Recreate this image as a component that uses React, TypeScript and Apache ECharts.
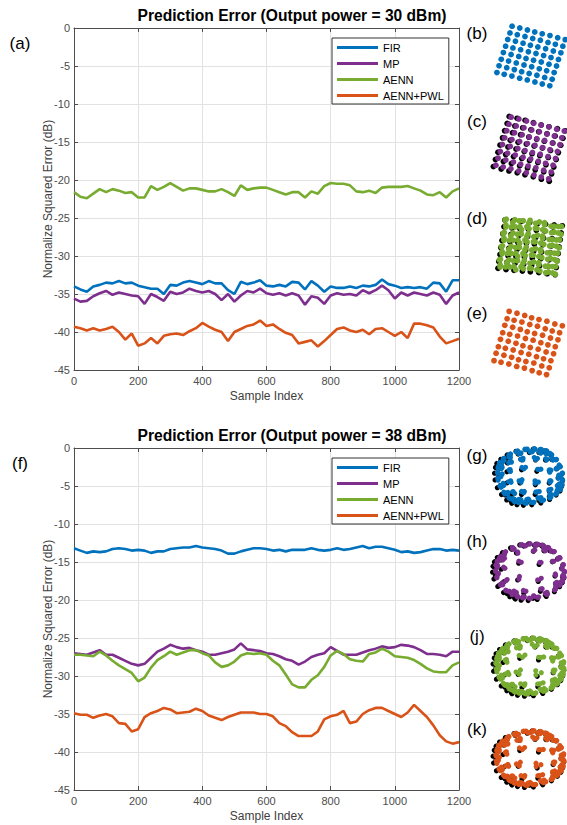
import React, { useEffect, useRef } from "react";
import * as echarts from "echarts";

const SAMPLE_INDEX = [
  0, 20, 40, 60, 80, 100, 120, 140, 160, 180, 200, 220, 240, 260, 280, 300, 320, 340, 360, 380,
  400, 420, 440, 460, 480, 500, 520, 540, 560, 580, 600, 620, 640, 660, 680, 700, 720, 740, 760, 780,
  800, 820, 840, 860, 880, 900, 920, 940, 960, 980, 1000, 1020, 1040, 1060, 1080, 1100, 1120, 1140, 1160, 1180, 1200,
];

const SERIES_NAMES = ["FIR", "MP", "AENN", "AENN+PWL"];
const COLORS = ["#0072BD", "#7E2F8E", "#77AC30", "#D95319"];
const TITLES = ["Prediction Error (Output power = 30 dBm)", "Prediction Error (Output power = 38 dBm)"];

// ---- Top panel (30 dBm) ----
const TOP_FIR = [
  -34.0, -34.4, -34.7, -34.0, -33.8, -33.5, -33.6, -33.3, -33.6, -33.5,
  -33.9, -34.1, -34.3, -34.3, -35.0, -33.8, -33.9, -33.5, -33.3, -33.5,
  -33.7, -33.3, -33.6, -33.6, -34.5, -35.0, -33.4, -33.7, -33.5, -33.2,
  -33.9, -34.0, -33.8, -34.0, -33.4, -33.5, -34.4, -33.3, -33.9, -34.7,
  -34.0, -34.2, -34.2, -34.0, -34.2, -33.9, -34.0, -33.8, -33.1, -33.7,
  -33.9, -34.2, -34.1, -34.2, -34.1, -34.3, -33.5, -33.6, -34.7, -33.2, -33.2,
];
const TOP_MP = [
  -35.6, -36.0, -35.9, -35.3, -34.9, -34.6, -35.1, -34.8, -35.0, -35.2,
  -35.3, -36.3, -35.0, -35.4, -35.9, -34.7, -35.0, -34.8, -34.3, -34.6,
  -34.8, -34.6, -35.0, -35.8, -35.0, -36.0, -35.2, -34.6, -34.8, -34.3,
  -34.9, -35.1, -34.9, -35.2, -34.9, -35.2, -36.4, -35.3, -35.5, -36.3,
  -35.2, -34.9, -35.1, -35.0, -35.2, -34.5, -34.9, -34.5, -33.9, -34.5,
  -35.6, -34.8, -35.2, -34.8, -35.0, -35.2, -34.8, -35.1, -36.3, -35.2, -34.8,
];
const TOP_AENN = [
  -21.6, -22.2, -22.4, -21.8, -21.2, -21.6, -21.2, -21.4, -21.7, -21.6,
  -22.3, -22.3, -20.8, -21.3, -20.9, -20.4, -20.9, -21.4, -21.1, -21.1,
  -21.3, -21.5, -21.5, -21.2, -21.6, -22.1, -20.7, -21.3, -21.1, -21.0,
  -21.0, -21.3, -21.6, -21.9, -21.6, -21.6, -22.3, -21.5, -21.8, -20.8,
  -20.4, -20.5, -20.5, -20.7, -21.5, -21.6, -21.4, -21.7, -21.0, -20.9,
  -20.9, -20.9, -20.8, -21.1, -21.4, -21.9, -22.0, -21.6, -22.3, -21.5, -21.1,
];
const TOP_PWL = [
  -39.3, -39.5, -39.8, -39.5, -39.8, -39.6, -39.3, -40.0, -41.0, -40.2,
  -41.8, -41.5, -40.8, -41.5, -40.5, -40.3, -40.2, -40.4, -39.9, -39.5,
  -38.8, -39.3, -39.7, -40.0, -41.2, -40.0, -39.6, -39.2, -39.0, -38.5,
  -39.2, -39.0, -39.6, -40.1, -40.4, -41.5, -41.3, -41.1, -41.9, -41.2,
  -40.4, -39.6, -39.4, -39.8, -40.0, -39.7, -40.3, -39.6, -39.5, -40.0,
  -40.5, -40.0, -40.8, -38.9, -38.9, -39.1, -39.4, -40.6, -41.5, -41.2, -40.9,
];

// ---- Bottom panel (38 dBm) ----
const BOT_FIR = [
  -13.2, -13.5, -13.8, -13.6, -13.7, -13.6, -13.3, -13.2, -13.3, -13.5,
  -13.4, -13.5, -13.8, -13.6, -13.6, -13.3, -13.2, -13.1, -13.1, -12.9,
  -13.1, -13.2, -13.3, -13.5, -13.9, -13.9, -13.6, -13.4, -13.2, -13.2,
  -13.3, -13.5, -13.4, -13.6, -13.4, -13.4, -13.4, -13.2, -13.4, -13.5,
  -13.4, -13.2, -13.4, -13.3, -13.1, -12.9, -13.2, -13.0, -13.0, -13.2,
  -13.4, -13.7, -13.6, -13.8, -13.7, -13.5, -13.3, -13.3, -13.5, -13.4, -13.5,
];
const BOT_MP = [
  -27.0, -27.1, -27.2, -26.9, -26.6, -27.2, -27.2, -27.6, -28.0, -28.4,
  -28.6, -28.4, -27.6, -26.8, -26.4, -25.9, -26.2, -26.4, -26.3, -26.6,
  -26.8, -27.2, -27.2, -27.0, -26.8, -26.5, -25.7, -26.5, -26.6, -26.7,
  -27.0, -27.1, -27.4, -27.8, -28.0, -28.5, -28.1, -27.5, -27.2, -27.0,
  -26.2, -26.7, -27.2, -27.2, -27.2, -26.9, -26.6, -26.4, -26.1, -26.3,
  -26.2, -25.9, -26.0, -26.2, -26.6, -27.1, -27.1, -27.2, -27.4, -26.8, -26.8,
];
const BOT_AENN = [
  -27.2, -27.2, -27.3, -27.4, -26.8, -27.3, -28.0, -28.6, -29.1, -29.6,
  -30.7, -30.2, -28.9, -27.9, -27.4, -26.8, -27.2, -26.9, -26.6, -26.6,
  -27.0, -27.3, -28.2, -28.8, -28.6, -28.1, -27.3, -27.0, -27.1, -27.0,
  -27.2, -28.0, -28.6, -29.8, -31.1, -31.5, -31.5, -30.5, -29.9, -28.8,
  -27.3, -26.7, -27.1, -27.8, -28.0, -28.1, -27.1, -26.9, -26.4, -26.8,
  -27.4, -27.5, -27.6, -27.9, -28.4, -29.0, -29.4, -29.5, -29.5, -28.6, -28.2,
];
const BOT_PWL = [
  -34.9, -35.1, -35.1, -35.5, -35.2, -35.0, -35.3, -36.2, -36.3, -37.3,
  -37.0, -35.4, -34.9, -34.6, -34.2, -34.4, -34.9, -34.8, -34.7, -34.3,
  -34.6, -35.2, -35.5, -35.8, -35.4, -35.1, -34.8, -34.8, -34.8, -35.0,
  -35.0, -35.3, -36.2, -36.6, -37.4, -37.9, -37.9, -37.9, -37.3, -35.7,
  -35.3, -35.1, -34.6, -36.2, -36.0, -35.0, -34.5, -34.2, -34.2, -34.6,
  -35.0, -35.4, -34.8, -33.8, -34.6, -35.4, -36.5, -37.8, -38.6, -38.9, -38.7,
];

const TOP_DATA = [TOP_FIR, TOP_MP, TOP_AENN, TOP_PWL];
const BOT_DATA = [BOT_FIR, BOT_MP, BOT_AENN, BOT_PWL];

// ---- Constellations (64-QAM) ----
const QAM_LEVELS = [-7, -5, -3, -1, 1, 3, 5, 7];
const JITTER = [
  [0.2, -0.1], [-0.15, 0.25], [0.3, 0.2], [-0.25, -0.2], [0.1, 0.3], [-0.3, 0.05], [0.25, -0.3], [-0.1, -0.25],
  [0.05, 0.15], [0.3, -0.05], [-0.2, 0.3], [0.15, -0.2], [-0.3, -0.1], [0.2, 0.25], [-0.05, -0.3], [0.1, 0.05],
];

type Panel = {
  label: string; lx: number; ly: number; cx: number; cy: number; color: string;
  rot: number; sy: number; jit: number; copies: number; ref: number | null; refShift: number[]; size: number;
  disc: { A: number; B: number; pm: number } | null;
};

const PANELS: Panel[] = [
  { label: "(b)", lx: 477, ly: 33, cx: 531, cy: 56, color: COLORS[0], rot: -16, sy: 0.87, jit: 0.15, copies: 1, ref: null, refShift: [0, 0], size: 5.8, disc: null },
  { label: "(c)", lx: 477, ly: 121, cx: 530, cy: 148, color: COLORS[1], rot: -16, sy: 0.9, jit: 0.2, copies: 1, ref: 1.05, refShift: [-0.2, -0.2], size: 5.8, disc: null },
  { label: "(d)", lx: 477, ly: 218, cx: 530, cy: 246, color: COLORS[2], rot: -7, sy: 0.85, jit: 1.3, copies: 2, ref: 1.04, refShift: [0, -0.3], size: 5.8, disc: null },
  { label: "(e)", lx: 477, ly: 313, cx: 528, cy: 343, color: COLORS[3], rot: -16, sy: 0.92, jit: 0.35, copies: 1, ref: null, refShift: [0, 0], size: 5.8, disc: null },
  { label: "(g)", lx: 477, ly: 455, cx: 530, cy: 476, color: COLORS[0], rot: -10, sy: 0.83, jit: 0.6, copies: 3, ref: 1.04, refShift: [-0.4, -0.3], size: 5.2, disc: { A: 8.9, B: 4.5, pm: 0.5 } },
  { label: "(h)", lx: 477, ly: 541, cx: 530, cy: 571, color: COLORS[1], rot: -10, sy: 0.79, jit: 0.5, copies: 2, ref: 1.04, refShift: [-0.4, -0.3], size: 5.2, disc: { A: 8.9, B: 3.3, pm: 0.6 } },
  { label: "(j)", lx: 477, ly: 636, cx: 530, cy: 666, color: COLORS[2], rot: -10, sy: 0.82, jit: 0.8, copies: 3, ref: 1.04, refShift: [-0.4, -0.3], size: 5.2, disc: { A: 8.9, B: 3.6, pm: 0.5 } },
  { label: "(k)", lx: 477, ly: 729, cx: 530, cy: 758, color: COLORS[3], rot: -10, sy: 0.8, jit: 0.7, copies: 3, ref: 1.04, refShift: [-0.4, -0.3], size: 5.2, disc: { A: 8.9, B: 3.6, pm: 0.5 } },
];

const PX_PER_UNIT = 3.95;
const THUMB_W = 84;
const THUMB_H = 74;

function buildConstellation(p: Panel) {
  const main: number[][] = [];
  const ref: number[][] = [];
  const th = (p.rot * Math.PI) / 180;
  const place = (x0: number, y0: number, scale: number) => {
    let x = x0 * Math.cos(th) - y0 * Math.sin(th);
    let y = x0 * Math.sin(th) + y0 * Math.cos(th);
    if (p.disc) {
      const r = Math.hypot(x, y);
      const a = Math.atan2(y, x);
      const r2 = p.disc.A * Math.tanh(r / p.disc.B);
      const a2 = a + p.disc.pm * Math.pow(r2 / p.disc.A, 2);
      x = r2 * Math.cos(a2);
      y = r2 * Math.sin(a2);
    }
    return [x * scale, y * scale * p.sy];
  };
  let k = 0;
  for (let c = 0; c < p.copies; c++) {
    for (const qv of QAM_LEVELS) {
      for (const iv of QAM_LEVELS) {
        const j = JITTER[(k * 5 + c * 7) % JITTER.length];
        k++;
        const js = p.jit * (1 + c * 0.5) * (c % 2 === 1 ? -1 : 1);
        main.push(place(iv + j[0] * js, qv + j[1] * js, 1));
        if (p.ref !== null && c === 0) {
          const q = place(iv - j[1] * 0.2, qv + j[0] * 0.2, p.ref);
          ref.push([q[0] + p.refShift[0], q[1] + p.refShift[1]]);
        }
      }
    }
  }
  return { main, ref };
}

const FONT = '"Liberation Sans", Arial, Helvetica, sans-serif';
const AXIS_COLOR = "#4d4d4d";
const GRID_COLOR = "#e2e2e2";

const MAIN_GRIDS = [
  { left: 74, top: 28, width: 385, height: 342 },
  { left: 74, top: 448, width: 385, height: 342 },
];

export default function App() {
  const ref = useRef<HTMLDivElement>(null);

  useEffect(() => {
    if (!ref.current) return;
    document.body.style.margin = "0";
    const chart = echarts.init(ref.current, null, { renderer: "svg" });

    const grids: any[] = [];
    const xAxes: any[] = [];
    const yAxes: any[] = [];
    const series: any[] = [];
    const legends: any[] = [];
    const graphics: any[] = [];

    MAIN_GRIDS.forEach((g, gi) => {
      grids.push({ ...g, show: false, outerBoundsMode: "none", containLabel: false });
      const common = {
        gridIndex: gi,
        type: "value",
        axisLine: { show: true, onZero: false, lineStyle: { color: AXIS_COLOR, width: 1 } },
        axisTick: { show: true, inside: true, length: 4, lineStyle: { color: AXIS_COLOR } },
      };
      const xBase = { ...common, min: 0, max: 1200, interval: 200 };
      const yBase = { ...common, min: -45, max: 0, interval: 5 };
      xAxes.push({
        ...xBase,
        position: "bottom",
        name: "Sample Index",
        nameLocation: "middle",
        nameGap: 20,
        nameMoveOverlap: false,
        nameTextStyle: { fontSize: 12, color: "#404040", fontFamily: FONT },
        axisLabel: { fontSize: 11, color: AXIS_COLOR, margin: 5, fontFamily: FONT, formatter: (v: number) => String(v) },
        splitLine: { show: true, lineStyle: { color: GRID_COLOR, width: 1 } },
      });
      xAxes.push({ ...xBase, position: "top", axisLabel: { show: false }, splitLine: { show: false } });
      yAxes.push({
        ...yBase,
        position: "left",
        name: "Normalize Squared Error (dB)",
        nameLocation: "middle",
        nameGap: 20,
        nameMoveOverlap: false,
        nameTextStyle: { fontSize: 12, color: "#404040", fontFamily: FONT },
        axisLabel: { fontSize: 11, color: AXIS_COLOR, margin: 4, fontFamily: FONT, formatter: (v: number) => String(v) },
        splitLine: { show: true, lineStyle: { color: GRID_COLOR, width: 1 } },
      });
      yAxes.push({ ...yBase, position: "right", axisLabel: { show: false }, splitLine: { show: false } });

      const dataSet = gi === 0 ? TOP_DATA : BOT_DATA;
      dataSet.forEach((vals, si) => {
        series.push({
          type: "line",
          name: SERIES_NAMES[si],
          xAxisIndex: gi * 2,
          yAxisIndex: gi * 2,
          data: SAMPLE_INDEX.map((x, i) => [x, vals[i]]),
          showSymbol: false,
          symbol: "none",
          lineStyle: { color: COLORS[si], width: 2.6 },
          itemStyle: { color: COLORS[si] },
          z: 3,
        });
      });

      legends.push({
        orient: "vertical",
        left: 332,
        top: g.top + 10,
        padding: [3, 5, 2, 5],
        itemGap: 3,
        itemWidth: 41,
        itemHeight: 3,
        icon: "rect",
        borderColor: "#333333",
        borderWidth: 1,
        backgroundColor: "#ffffff",
        data: SERIES_NAMES,
        selectedMode: false,
        textStyle: { fontSize: 11, color: "#000", fontFamily: FONT, lineHeight: 13 },
      });

      graphics.push({
        type: "text",
        x: 292,
        y: g.top - 13,
        style: {
          text: TITLES[gi],
          fill: "#000",
          font: `bold 15.6px ${FONT}`,
          textAlign: "center",
          textVerticalAlign: "middle",
          align: "center",
          verticalAlign: "middle",
        },
      });
      graphics.push({
        type: "text",
        x: 20,
        y: g.top + 15,
        style: {
          text: gi === 0 ? "(a)" : "(f)",
          fill: "#000",
          font: `17px ${FONT}`,
          textAlign: "center",
          textVerticalAlign: "middle",
          align: "center",
          verticalAlign: "middle",
        },
      });
    });

    PANELS.forEach((p, pi) => {
      const gIdx = 2 + pi;
      const axIdx = 4 + pi;
      grids.push({
        left: p.cx - THUMB_W / 2,
        top: p.cy - THUMB_H / 2,
        width: THUMB_W,
        height: THUMB_H,
        show: false,
        outerBoundsMode: "none",
        containLabel: false,
      });
      const hx = THUMB_W / (2 * PX_PER_UNIT);
      const hy = THUMB_H / (2 * PX_PER_UNIT);
      xAxes.push({ gridIndex: gIdx, type: "value", min: -hx, max: hx, show: false });
      yAxes.push({ gridIndex: gIdx, type: "value", min: -hy, max: hy, show: false });
      const pts = buildConstellation(p);
      if (pts.ref.length) {
        series.push({
          type: "scatter",
          xAxisIndex: axIdx,
          yAxisIndex: axIdx,
          data: pts.ref,
          symbolSize: p.size,
          itemStyle: { color: "#000", opacity: 1 },
          silent: true,
          z: 2,
        });
      }
      series.push({
        type: "scatter",
        xAxisIndex: axIdx,
        yAxisIndex: axIdx,
        data: pts.main,
        symbolSize: p.size,
        itemStyle: { color: p.color, opacity: 1 },
        silent: true,
        z: 3,
      });
      graphics.push({
        type: "text",
        x: p.lx,
        y: p.ly,
        style: {
          text: p.label,
          fill: "#000",
          font: `17px ${FONT}`,
          textAlign: "center",
          textVerticalAlign: "middle",
          align: "center",
          verticalAlign: "middle",
        },
      });
    });

    chart.setOption({
      animation: false,
      backgroundColor: "#ffffff",
      textStyle: { fontFamily: FONT },
      grid: grids,
      xAxis: xAxes,
      yAxis: yAxes,
      legend: legends,
      series,
      graphic: graphics,
      tooltip: { show: false },
    });

    return () => chart.dispose();
  }, []);

  return <div ref={ref} style={{ width: 567, height: 825, background: "#fff" }} />;
}
